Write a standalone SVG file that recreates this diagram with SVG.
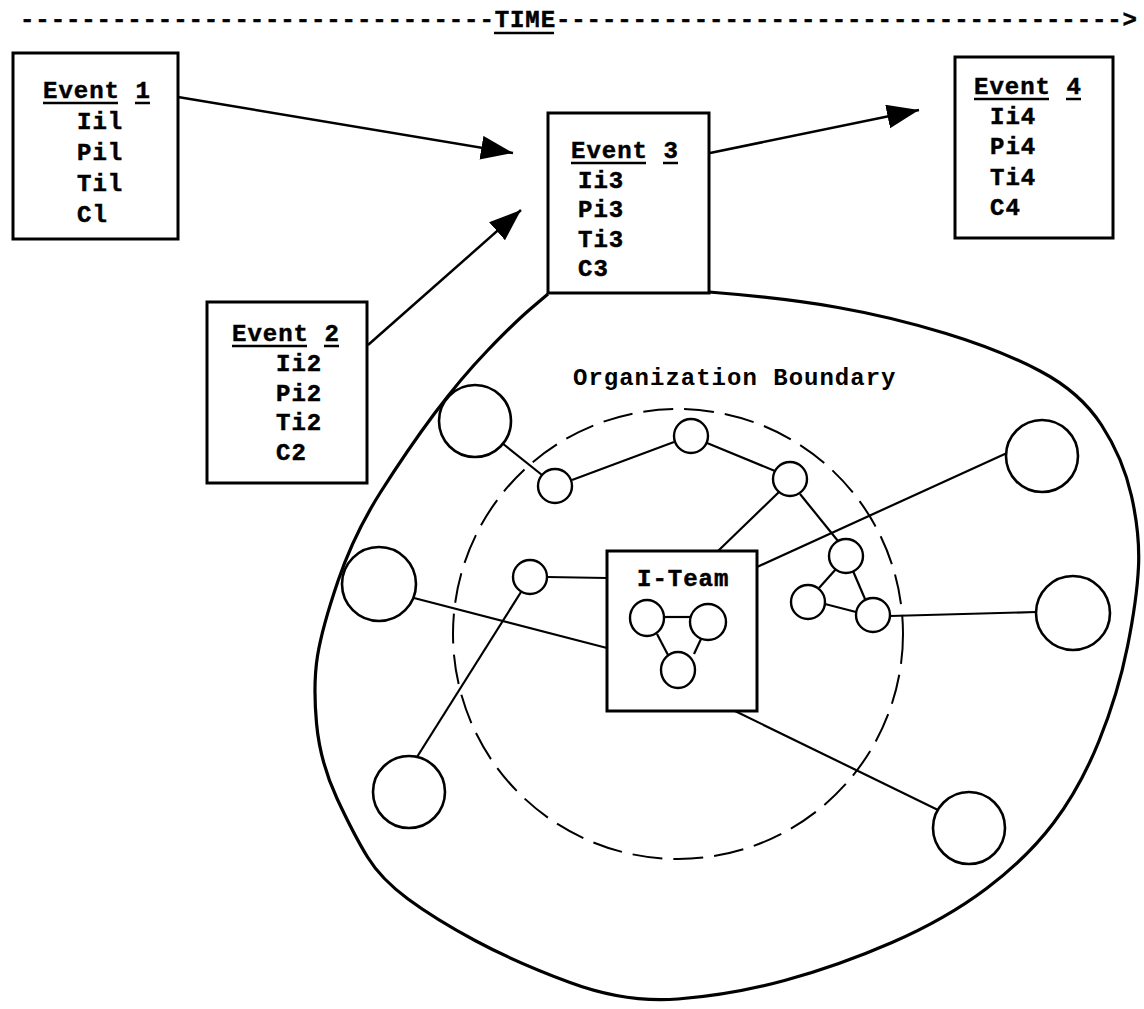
<svg xmlns="http://www.w3.org/2000/svg" width="1144" height="1009" viewBox="0 0 1144 1009">
<style>
  .bg { fill: #ffffff; }
  .box { fill: none; stroke: #000; stroke-width: 3; }
  .t { font-family: "Liberation Mono", "DejaVu Sans Mono", monospace; font-size: 24px; font-weight: bold; letter-spacing: 1px; fill: #000; stroke: #000; stroke-width: 0.5px; }
  .tn { font-family: "Liberation Mono", "DejaVu Sans Mono", monospace; font-size: 24px; font-weight: bold; letter-spacing: 1px; fill: #000; }
  .ul { stroke: #000; stroke-width: 2.5; }
  .node { fill: #fff; stroke: #000; stroke-width: 2.6; }
  .small { fill: #fff; stroke: #000; stroke-width: 2.4; }
  .edge { fill: none; stroke: #000; stroke-width: 2.2; }
  .arrow { fill: none; stroke: #000; stroke-width: 2.5; }
  .boundary { fill: none; stroke: #000; stroke-width: 3.2; stroke-linejoin: round; }
  .zone { fill: none; stroke: #000; stroke-width: 2; stroke-dasharray: 30 11; }
</style>
<defs>
  <marker id="ah" markerUnits="userSpaceOnUse" markerWidth="34" markerHeight="26" refX="32" refY="12" orient="auto">
    <path d="M0,0 L32,12 L0,24 z" fill="#000"/>
  </marker>
</defs>
<rect class="bg" x="0" y="0" width="1144" height="1009"/>

<g id="time-axis">
  <text class="t" x="20" y="27" textLength="1118" lengthAdjust="spacing">-------------------------------TIME-------------------------------------&gt;</text>
  <line class="ul" x1="494" y1="33" x2="554" y2="33"/>
</g>

<g id="organization-boundary">
  <path class="boundary" d="M548,294 L531.5,308 Q515,322 488,350 Q461,378 434.5,413.5 Q408,449 381,491.5 Q354,534 338,581 Q322,628 317.5,656 Q313,684 316.5,723 Q320,762 337,798.5 Q354,835 367.5,857 Q381,879 408,899 Q435,919 475,940.5 Q515,962 570,982.5 Q625,1003 678,999 Q731,995 784.5,980.5 Q838,966 892,942.5 Q946,919 986.5,888.5 Q1027,858 1053.5,823 Q1080,788 1099,741 Q1118,694 1127.5,646.5 Q1137,599 1138.5,566.5 Q1140,534 1131.5,496 Q1123,458 1101.5,425 Q1080,392 1040,371 Q1000,350 946,333.5 Q892,317 838,307.5 Q784,298 709,292"/>
  <text class="tn" x="573" y="385">Organization Boundary</text>
</g>

<g id="team-zone">
  <circle class="zone" cx="678" cy="634" r="225"/>
</g>

<g id="connectors">
  <line class="arrow" x1="178" y1="97" x2="513" y2="153" marker-end="url(#ah)"/>
  <line class="arrow" x1="368" y1="345" x2="521" y2="210" marker-end="url(#ah)"/>
  <line class="arrow" x1="710" y1="153" x2="919" y2="110" marker-end="url(#ah)"/>
  <line class="edge" x1="502" y1="443" x2="542" y2="475"/>
  <line class="edge" x1="572" y1="480" x2="674" y2="442"/>
  <line class="edge" x1="707" y1="443" x2="775" y2="471"/>
  <line class="edge" x1="779" y1="492" x2="718" y2="551"/>
  <line class="edge" x1="800" y1="494" x2="838" y2="541"/>
  <line class="edge" x1="836" y1="569" x2="819" y2="588"/>
  <line class="edge" x1="825" y1="604" x2="856" y2="612"/>
  <line class="edge" x1="853" y1="571" x2="865" y2="599"/>
  <line class="edge" x1="890" y1="616" x2="1036" y2="612"/>
  <line class="edge" x1="757" y1="567" x2="1007" y2="453"/>
  <line class="edge" x1="547" y1="577" x2="607" y2="578"/>
  <line class="edge" x1="414" y1="598" x2="607" y2="648"/>
  <line class="edge" x1="521" y1="592" x2="417" y2="757"/>
  <line class="edge" x1="735" y1="711" x2="938" y2="810"/>
</g>

<g id="event1">
  <rect class="box" x="13" y="53" width="165" height="186"/>
  <text class="t" x="43" y="98">Event 1</text>
  <line class="ul" x1="43" y1="103" x2="118" y2="103"/>
  <line class="ul" x1="135" y1="103" x2="150" y2="103"/>
  <text class="t" x="77" y="129">Iil</text>
  <text class="t" x="77" y="160">Pil</text>
  <text class="t" x="77" y="191">Til</text>
  <text class="t" x="77" y="222">Cl</text>
</g>

<g id="event2">
  <rect class="box" x="207" y="302" width="160" height="181"/>
  <text class="t" x="232" y="341">Event 2</text>
  <line class="ul" x1="232" y1="346" x2="307" y2="346"/>
  <line class="ul" x1="324" y1="346" x2="339" y2="346"/>
  <text class="t" x="276" y="371">Ii2</text>
  <text class="t" x="276" y="401">Pi2</text>
  <text class="t" x="276" y="430">Ti2</text>
  <text class="t" x="276" y="460">C2</text>
</g>

<g id="event3">
  <rect class="box" x="548" y="113" width="161" height="180"/>
  <text class="t" x="571" y="158">Event 3</text>
  <line class="ul" x1="571" y1="163" x2="646" y2="163"/>
  <line class="ul" x1="663" y1="163" x2="678" y2="163"/>
  <text class="t" x="578" y="188">Ii3</text>
  <text class="t" x="578" y="217">Pi3</text>
  <text class="t" x="578" y="247">Ti3</text>
  <text class="t" x="578" y="276">C3</text>
</g>

<g id="event4">
  <rect class="box" x="955" y="57" width="158" height="181"/>
  <text class="t" x="974" y="94">Event 4</text>
  <line class="ul" x1="974" y1="99" x2="1049" y2="99"/>
  <line class="ul" x1="1066" y1="99" x2="1081" y2="99"/>
  <text class="t" x="990" y="124">Ii4</text>
  <text class="t" x="990" y="154">Pi4</text>
  <text class="t" x="990" y="185">Ti4</text>
  <text class="t" x="990" y="215">C4</text>
</g>

<g id="member-upper-left"><circle class="node" cx="475" cy="421" r="36"/></g>
<g id="member-left"><circle class="node" cx="379" cy="584" r="37"/></g>
<g id="member-lower-left"><circle class="node" cx="409" cy="792" r="36"/></g>
<g id="member-right-top"><circle class="node" cx="1042" cy="456" r="36"/></g>
<g id="member-right"><circle class="node" cx="1073" cy="613" r="37"/></g>
<g id="member-lower-right"><circle class="node" cx="969" cy="828" r="36"/></g>

<g id="link-a"><circle class="small" cx="555" cy="486" r="17"/></g>
<g id="link-b"><circle class="small" cx="691" cy="436" r="17"/></g>
<g id="link-c"><circle class="small" cx="790" cy="479" r="17"/></g>
<g id="link-d"><circle class="small" cx="530" cy="577" r="17"/></g>
<g id="tri-top"><circle class="small" cx="846" cy="556" r="17"/></g>
<g id="tri-left"><circle class="small" cx="808" cy="602" r="17"/></g>
<g id="tri-right"><circle class="small" cx="873" cy="615" r="17"/></g>

<g id="i-team">
  <rect class="box" x="607" y="551" width="150" height="160" fill="#fff"/>
  <text class="t" x="637" y="586" letter-spacing="0.6">I-Team</text>
  <line class="edge" x1="664" y1="617" x2="690" y2="617"/>
  <line class="edge" x1="657" y1="634" x2="668" y2="655"/>
  <line class="edge" x1="701" y1="639" x2="694" y2="654"/>
  <ellipse class="small" cx="647" cy="618" rx="17" ry="18"/>
  <ellipse class="small" cx="708" cy="622" rx="18" ry="18"/>
  <ellipse class="small" cx="678" cy="670" rx="17" ry="18"/>
</g>
</svg>
